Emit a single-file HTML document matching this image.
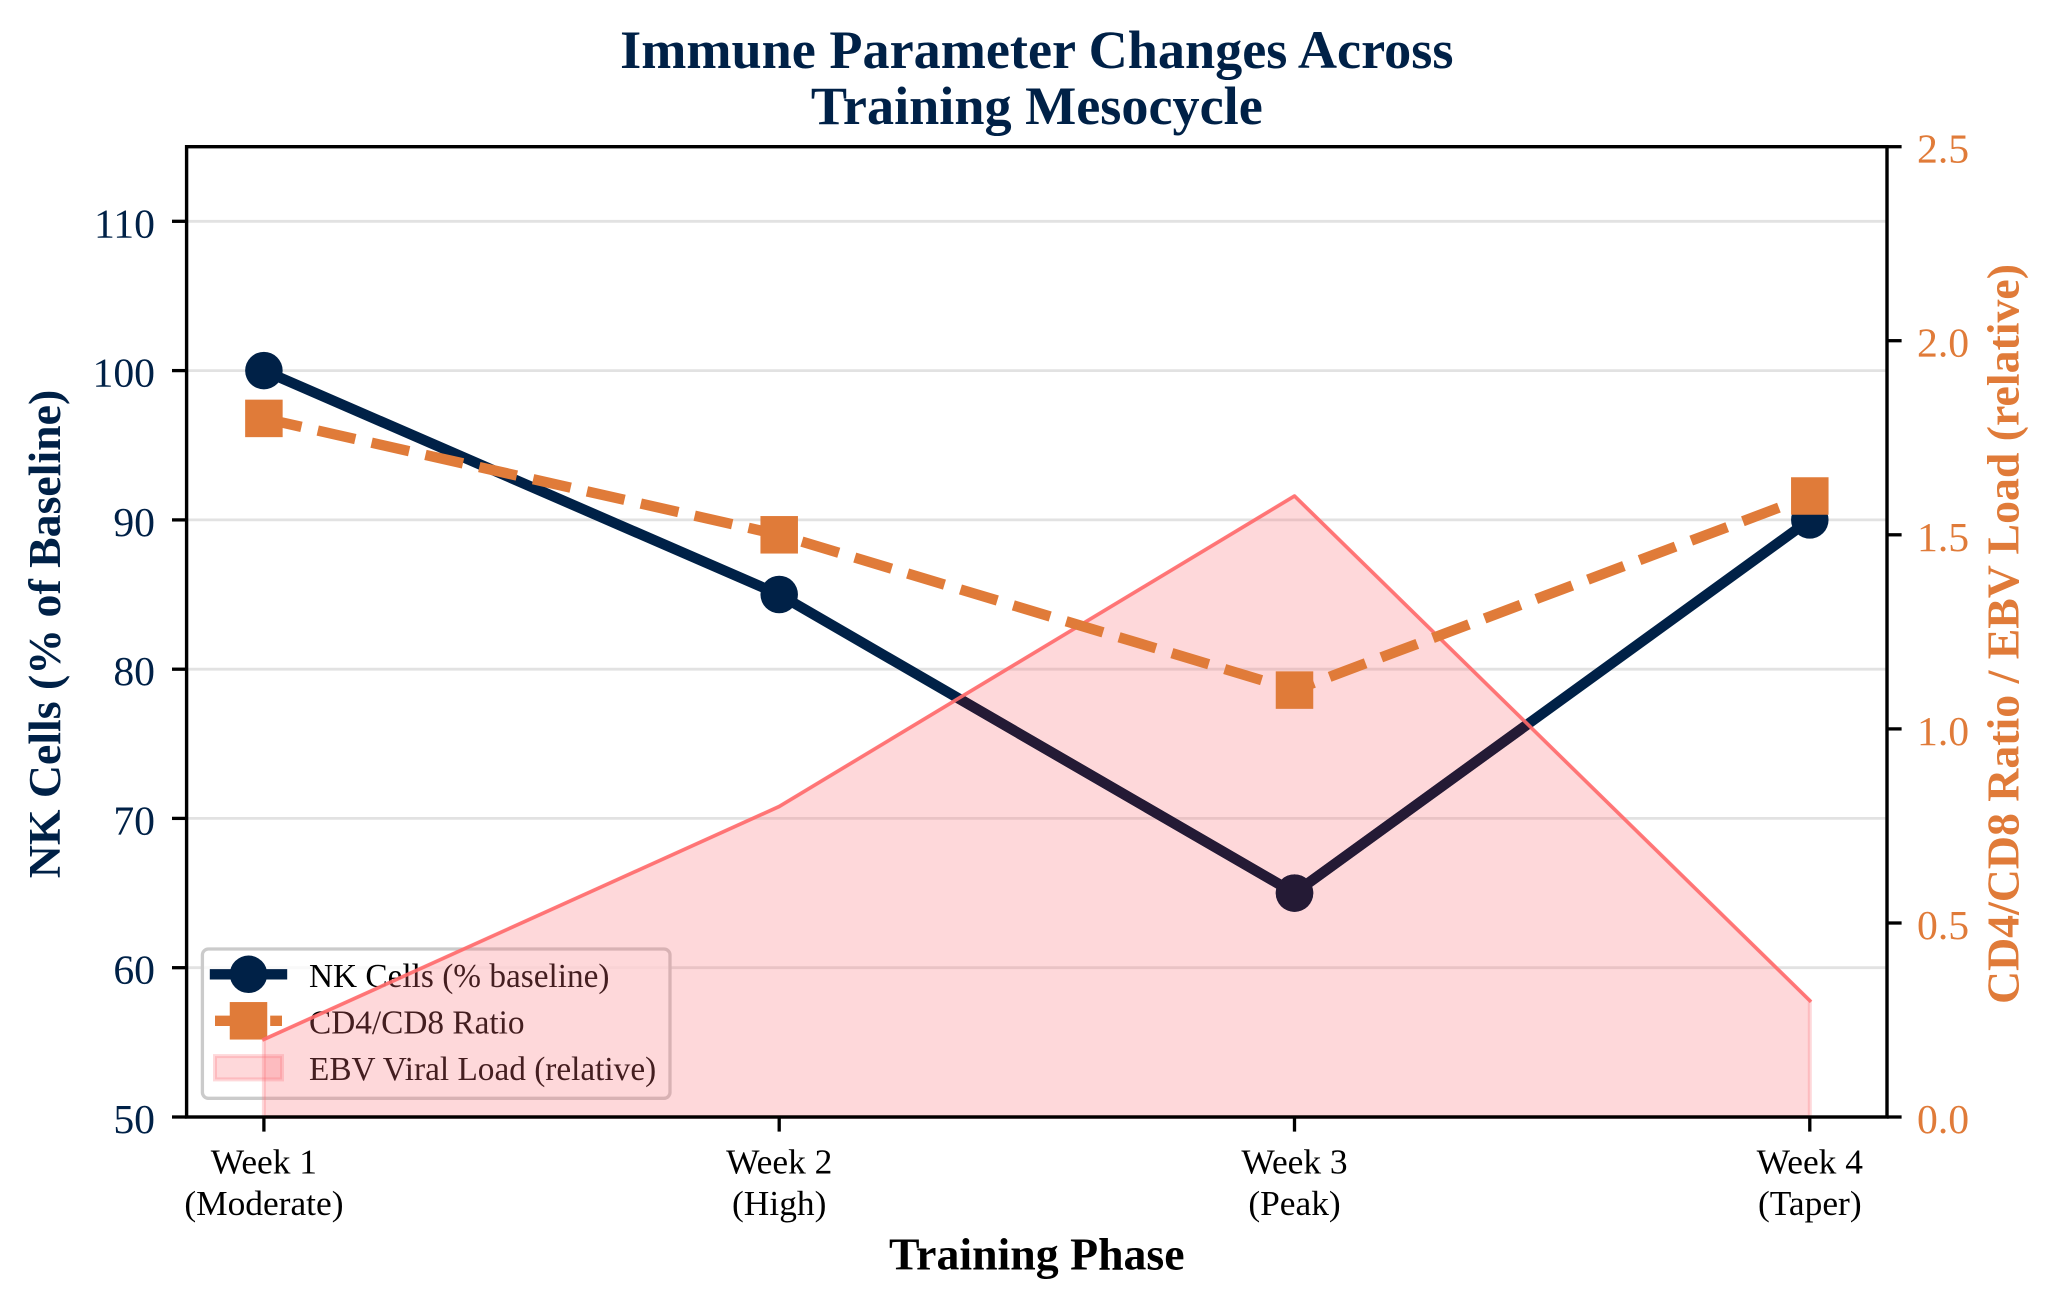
<!DOCTYPE html>
<html>
<head>
<meta charset="utf-8">
<style>
  html, body { margin: 0; padding: 0; background: #ffffff; }
  svg { display: block; }
  text { font-family: "Liberation Serif", "Times New Roman", serif; }
</style>
</head>
<body>
<svg width="2061" height="1310" viewBox="0 0 2061 1310" xmlns="http://www.w3.org/2000/svg">
  <defs>
    <clipPath id="fillclip">
      <polygon points="263.9,1039.4 779.2,806.5 1294.5,496 1809.8,1000.6 1809.8,1117 263.9,1117"/>
    </clipPath>
  </defs>
  <rect x="0" y="0" width="2061" height="1310" fill="#ffffff"/>

  <!-- Grid (left axis) -->
  <g stroke="#e2e2e2" stroke-width="2.8">
    <line x1="186.6" y1="967.7" x2="1887" y2="967.7"/>
    <line x1="186.6" y1="818.4" x2="1887" y2="818.4"/>
    <line x1="186.6" y1="669.2" x2="1887" y2="669.2"/>
    <line x1="186.6" y1="519.9" x2="1887" y2="519.9"/>
    <line x1="186.6" y1="370.6" x2="1887" y2="370.6"/>
    <line x1="186.6" y1="221.3" x2="1887" y2="221.3"/>
  </g>

  <!-- NK Cells line (ax1) -->
  <polyline points="263.9,370.6 779.2,594.5 1294.5,893.1 1809.8,519.9" fill="none" stroke="#002147" stroke-width="10.4" stroke-linejoin="round" stroke-linecap="square"/>
  <g fill="#002147">
    <circle cx="263.9" cy="370.6" r="18.75"/>
    <circle cx="779.2" cy="594.5" r="18.75"/>
    <circle cx="1294.5" cy="893.1" r="18.75"/>
    <circle cx="1809.8" cy="519.9" r="18.75"/>
  </g>

  <!-- Legend (ax1) -->
  <rect x="202.4" y="949" width="467.6" height="149.3" rx="6" ry="6" fill="#ffffff" fill-opacity="0.8" stroke="#cbcbcb" stroke-width="3.3"/>
  <line x1="215" y1="974.3" x2="282" y2="974.3" stroke="#002147" stroke-width="10.4" stroke-linecap="square"/>
  <circle cx="248.5" cy="974.3" r="18.75" fill="#002147"/>
  <line x1="215" y1="1020.8" x2="282" y2="1020.8" stroke="#E07B39" stroke-width="10.4" stroke-dasharray="38.5 16.7" stroke-linecap="butt"/>
  <rect x="229.75" y="1002.05" width="37.5" height="37.5" fill="#E07B39"/>
  <rect x="215" y="1056.1" width="67" height="23.3" fill="rgba(250,110,120,0.27)" stroke="rgba(250,110,120,0.27)" stroke-width="4"/>
  <g font-size="33.3" fill="#000000">
    <text x="309" y="986.8">NK Cells (% baseline)</text>
    <text x="309" y="1033.5">CD4/CD8 Ratio</text>
    <text x="309" y="1080.2">EBV Viral Load (relative)</text>
  </g>

  <!-- EBV fill (ax2) -->
  <polygon points="263.9,1039.4 779.2,806.5 1294.5,496 1809.8,1000.6 1809.8,1117 263.9,1117" fill="rgba(250,110,120,0.27)" stroke="rgba(250,110,120,0.27)" stroke-width="4" stroke-linejoin="round"/>

  <!-- NK portion under fill: darker tint -->
  <g clip-path="url(#fillclip)">
    <polyline points="263.9,370.6 779.2,594.5 1294.5,893.1 1809.8,519.9" fill="none" stroke="#241A35" stroke-width="10.4" stroke-linejoin="round" stroke-linecap="square"/>
    <circle cx="1294.5" cy="893.1" r="18.75" fill="#241A35"/>
  </g>

  <polyline points="263.9,1039.4 779.2,806.5 1294.5,496 1809.8,1000.6" fill="none" stroke="#FF6B6B" stroke-opacity="0.9" stroke-width="3.5" stroke-linejoin="round" stroke-linecap="square"/>

  <!-- CD4/CD8 line (ax2) -->
  <polyline points="263.9,418.4 779.2,534.8 1294.5,690.1 1809.8,496" fill="none" stroke="#E07B39" stroke-width="10.4" stroke-dasharray="38.5 16.7" stroke-linecap="butt" stroke-linejoin="round"/>
  <g fill="#E07B39">
    <rect x="245.15" y="399.65" width="37.5" height="37.5"/>
    <rect x="760.45" y="516.05" width="37.5" height="37.5"/>
    <rect x="1275.75" y="671.35" width="37.5" height="37.5"/>
    <rect x="1791.05" y="477.25" width="37.5" height="37.5"/>
  </g>

  <!-- Spines -->
  <rect x="186.6" y="146.7" width="1700.4" height="970.3" fill="none" stroke="#000000" stroke-width="3.4"/>

  <!-- Ticks -->
  <g stroke="#000000" stroke-width="3.3">
    <line x1="172" y1="1117" x2="186.6" y2="1117"/>
    <line x1="172" y1="967.7" x2="186.6" y2="967.7"/>
    <line x1="172" y1="818.4" x2="186.6" y2="818.4"/>
    <line x1="172" y1="669.2" x2="186.6" y2="669.2"/>
    <line x1="172" y1="519.9" x2="186.6" y2="519.9"/>
    <line x1="172" y1="370.6" x2="186.6" y2="370.6"/>
    <line x1="172" y1="221.3" x2="186.6" y2="221.3"/>
    <line x1="1887" y1="1117" x2="1901.6" y2="1117"/>
    <line x1="1887" y1="923" x2="1901.6" y2="923"/>
    <line x1="1887" y1="728.9" x2="1901.6" y2="728.9"/>
    <line x1="1887" y1="534.8" x2="1901.6" y2="534.8"/>
    <line x1="1887" y1="340.7" x2="1901.6" y2="340.7"/>
    <line x1="1887" y1="146.7" x2="1901.6" y2="146.7"/>
    <line x1="263.9" y1="1117" x2="263.9" y2="1131.6"/>
    <line x1="779.2" y1="1117" x2="779.2" y2="1131.6"/>
    <line x1="1294.5" y1="1117" x2="1294.5" y2="1131.6"/>
    <line x1="1809.8" y1="1117" x2="1809.8" y2="1131.6"/>
  </g>

  <!-- Left tick labels -->
  <g font-size="41.7" fill="#002147" text-anchor="end">
    <text x="155" y="1133">50</text>
    <text x="155" y="983.7">60</text>
    <text x="155" y="834.4">70</text>
    <text x="155" y="685.2">80</text>
    <text x="155" y="535.9">90</text>
    <text x="155" y="386.6">100</text>
    <text x="155" y="237.3">110</text>
  </g>

  <!-- Right tick labels -->
  <g font-size="41.7" fill="#E07B39" text-anchor="start">
    <text x="1917" y="1133">0.0</text>
    <text x="1917" y="939">0.5</text>
    <text x="1917" y="744.9">1.0</text>
    <text x="1917" y="550.8">1.5</text>
    <text x="1917" y="356.7">2.0</text>
    <text x="1917" y="162.7">2.5</text>
  </g>

  <!-- X tick labels -->
  <g font-size="35.4" fill="#000000" text-anchor="middle">
    <text x="263.9" y="1173.5">Week 1</text>
    <text x="263.9" y="1215">(Moderate)</text>
    <text x="779.2" y="1173.5">Week 2</text>
    <text x="779.2" y="1215">(High)</text>
    <text x="1294.5" y="1173.5">Week 3</text>
    <text x="1294.5" y="1215">(Peak)</text>
    <text x="1809.8" y="1173.5">Week 4</text>
    <text x="1809.8" y="1215">(Taper)</text>
  </g>

  <!-- Axis labels -->
  <text x="1036.8" y="1269.5" font-size="45.8" font-weight="bold" fill="#000000" text-anchor="middle">Training Phase</text>
  <text transform="translate(60,634) rotate(-90)" font-size="45.8" font-weight="bold" fill="#002147" text-anchor="middle">NK Cells (% of Baseline)</text>
  <text transform="translate(2018.5,634) rotate(-90)" font-size="45.8" font-weight="bold" fill="#E07B39" text-anchor="middle">CD4/CD8 Ratio / EBV Load (relative)</text>

  <!-- Title -->
  <g font-size="54.2" font-weight="bold" fill="#002147" text-anchor="middle">
    <text x="1036.8" y="68">Immune Parameter Changes Across</text>
    <text x="1036.8" y="124">Training Mesocycle</text>
  </g>
</svg>
</body>
</html>
